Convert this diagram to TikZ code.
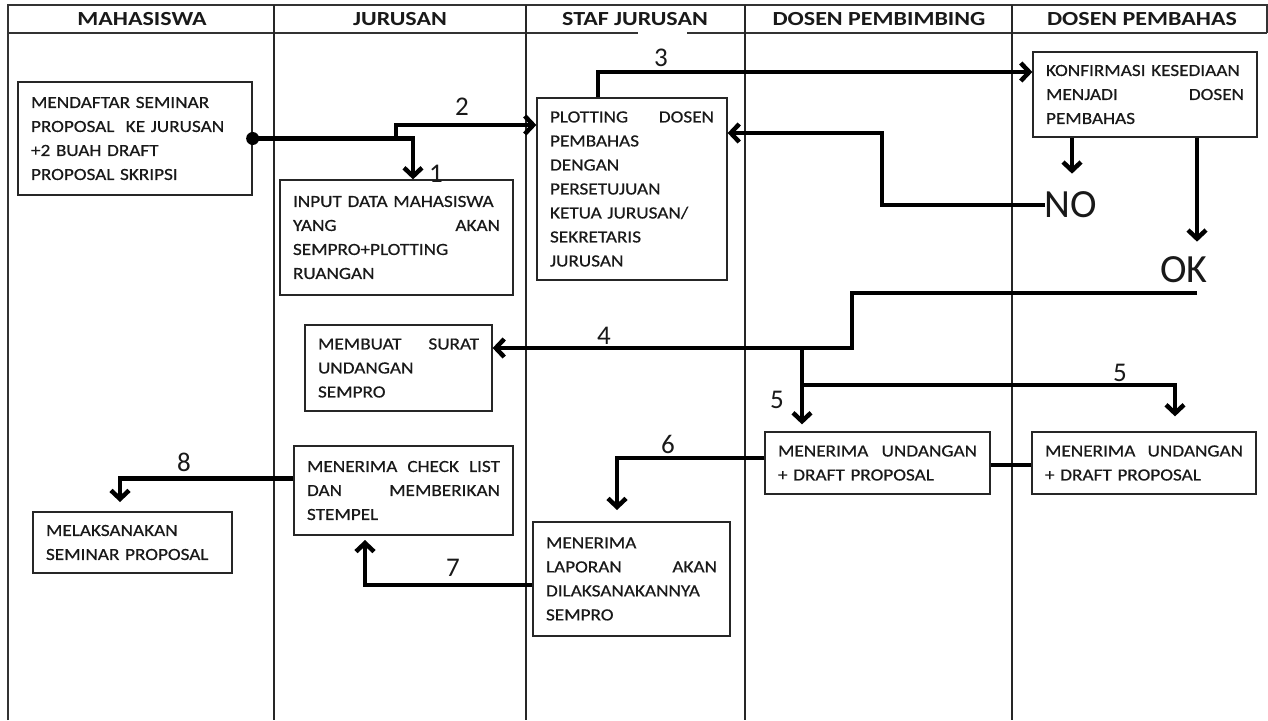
\documentclass[tikz,border=0pt]{standalone}
\usepackage{fontspec}
\setmainfont{Carlito}[FakeStretch=1.13,FakeBold=0.6]
\newfontfamily\plainf{Carlito}
\newfontfamily\hdrf{Carlito}[FakeStretch=1.2]
\usetikzlibrary{arrows.meta}
\begin{document}
\begin{tikzpicture}[x=1pt,y=-1pt,
  box/.style={draw=black!85, line width=1.3pt, rectangle, inner xsep=13pt, inner ysep=0pt,
    align=left, font=\fontsize{17}{24}\selectfont, text=black!90},
  arr/.style={line width=4.5pt, draw=black, -{Straight Barb[length=8.5pt,width=18pt]}},
  ln/.style={line width=4.5pt, draw=black},
  num/.style={font=\plainf\fontsize{27}{27}\selectfont, inner sep=0pt, text=black!90},
  big/.style={font=\plainf\fontsize{40}{40}\selectfont, inner sep=0pt, text=black!90},
  hdr/.style={font=\hdrf\bfseries\fontsize{20}{22}\selectfont, inner sep=0pt, text=black!90},
  frame/.style={line width=1.6pt, draw=black!80},
  col/.style={line width=1.3pt, draw=black!85},
]
\useasboundingbox (0,0) rectangle (1268,720);
% frame
\draw[frame] (8,720) -- (8,5) -- (1267,5) -- (1267,33);
\draw[frame] (8,33) -- (638,33);
\draw[frame] (687,33) -- (1267,33);
\foreach \x in {274,526,745,1012} \draw[col] (\x,5) -- (\x,720);
% headers
\node[hdr] (h1) at (142,19) {MAHASISWA};
\node[hdr] (h2) at (400,19) {JURUSAN};
\node[hdr] (h3) at (635,19) {STAF JURUSAN};
\node[hdr] (h4) at (879,19) {DOSEN PEMBIMBING};
\node[hdr] (h5) at (1142,19) {DOSEN PEMBAHAS};
% boxes
\node[box, text width=208, minimum height=113] (mhs) at (135,138.5)
  {MENDAFTAR SEMINAR\\PROPOSAL\ \ KE JURUSAN\\+2 BUAH DRAFT\\PROPOSAL SKRIPSI};
\node[box, text width=207, minimum height=115] (inp) at (396.5,237.5)
  {INPUT DATA MAHASISWA\\YANG\hfill AKAN\\SEMPRO+PLOTTING\\RUANGAN};
\node[box, text width=164, minimum height=182] (plot) at (632,189)
  {PLOTTING\hfill DOSEN\\PEMBAHAS\\DENGAN\\PERSETUJUAN\\KETUA JURUSAN/\\SEKRETARIS\\JURUSAN};
\node[box, text width=198, minimum height=85] (konf) at (1145,94.5)
  {KONFIRMASI KESEDIAAN\\MENJADI\hfill DOSEN\\PEMBAHAS};
\node[box, text width=161, minimum height=86] (surat) at (398.5,368)
  {MEMBUAT\hfill SURAT\\UNDANGAN\\SEMPRO};
\node[box, text width=199, minimum height=62] (und1) at (877.5,463)
  {MENERIMA\hfill UNDANGAN\\+ DRAFT PROPOSAL};
\node[box, text width=198, minimum height=62] (und2) at (1144,463)
  {MENERIMA\hfill UNDANGAN\\+ DRAFT PROPOSAL};
\node[box, text width=193, minimum height=89] (check) at (403.5,490.5)
  {MENERIMA\hfill CHECK\hfill LIST\\DAN\hfill MEMBERIKAN\\STEMPEL};
\node[box, text width=173, minimum height=61] (laks) at (132.5,542.5)
  {MELAKSANAKAN\\SEMINAR PROPOSAL};
\node[box, text width=171, minimum height=114] (lap) at (631.5,579)
  {MENERIMA\\LAPORAN\hfill AKAN\\DILAKSANAKANNYA\\SEMPRO};
% big labels
\node[big] (no) at (1071,205) {NO};
\node[big] (ok) at (1184,270) {OK};
% coordinates
\coordinate (j1) at (396,138.5);
\coordinate (j1t) at (396,125);
\coordinate (k1) at (413,138.5);
\coordinate (j3) at (598,72);
\coordinate (j4) at (852,348);
\coordinate (j5) at (802,348);
\coordinate (j5b) at (802,385);
\coordinate (j5c) at (1175,385);
\coordinate (ok4) at (1197,293);
\coordinate (c6) at (617,510);
\coordinate (c7) at (365,540);
\coordinate (c8) at (120,502);
% connectors
\fill (mhs.east) circle (6.5);
\draw[arr] (mhs.east) -- (k1) -- (k1 |- inp.north);
\draw[arr] (j1) -- (j1t) -- (plot.west |- j1t);
\draw[arr] (j3 |- plot.north) -- (j3) -- (konf.west |- j3);
\draw[arr] ([xshift=-73]konf.south) -- ++(0,36);
\draw[arr] (no.west) -| (882,133) -- (plot.east |- 0,133);
\draw[arr] ([xshift=52]konf.south) -- ++(0,104);
\draw[arr] (ok4) -| (j4) -- (surat.east |- j4);
\draw[arr] (j5) -- ([yshift=7]j5 |- und1.north);
\draw[arr] (j5b) -- (j5c) -- ([yshift=15]j5c |- und2.north);
\draw[ln] (und1.east |- 0,465) -- (und2.west |- 0,465);
\draw[arr] ([yshift=5]und1.west) -| (c6);
\draw[arr] ([yshift=-6]lap.west) -| (c7);
\draw[arr] ([yshift=12]check.west) -| (c8);
% numbers
\node[num] (n1) at (436,174) {1};
\node[num] (n2) at (462,107) {2};
\node[num] (n3) at (661,58) {3};
\node[num] (n4) at (604,336) {4};
\node[num] (n5a) at (777,400) {5};
\node[num] (n5b) at (1120,373) {5};
\node[num] (n6) at (668,444) {6};
\node[num] (n7) at (453,568) {7};
\node[num] (n8) at (184,462) {8};
\end{tikzpicture}
\end{document}
